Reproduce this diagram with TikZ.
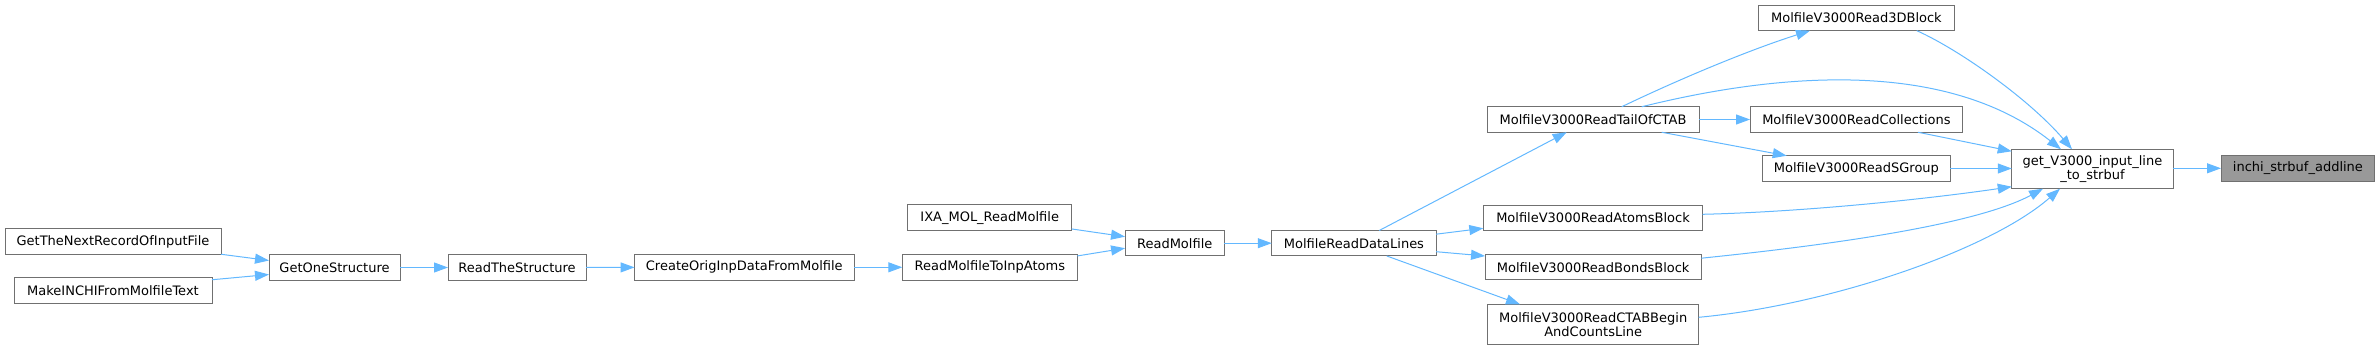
\documentclass[tikz,border=0pt]{standalone}
\usepackage{fontspec}
\setmainfont{DejaVu Sans}
\usetikzlibrary{arrows.meta,calc}
\definecolor{edgeblue}{HTML}{63B8FF}
\definecolor{boxborder}{HTML}{707070}
\definecolor{rootfill}{HTML}{999999}
\begin{document}
\begin{tikzpicture}[x=1pt,y=-1pt,
  fn/.style={draw=boxborder, fill=white, line width=1pt, inner sep=0pt, outer sep=0pt,
    font=\fontsize{13}{14}\selectfont, align=center, minimum height=25.5pt},
  root/.style={fn, fill=rootfill},
  call/.style={draw=edgeblue, line width=1pt, -{Triangle[length=14pt,width=10pt]}}
]
\useasboundingbox (0,0) rectangle (2380,350);
% nodes
\node[fn, minimum width=216pt] (n1) at (113,241.5) {GetTheNextRecordOfInputFile};
\node[fn, minimum width=198pt] (n2) at (113,290.5) {MakeINCHIFromMolfileText};
\node[fn, minimum width=131pt] (n3) at (334.5,267.5) {GetOneStructure};
\node[fn, minimum width=138pt] (n4) at (517,267.5) {ReadTheStructure};
\node[fn, minimum width=219.5pt] (n5) at (744.3,267.3) {CreateOrigInpDataFromMolfile};
\node[fn, minimum width=175pt] (n6) at (989.8,267.3) {ReadMolfileToInpAtoms};
\node[fn, minimum width=164pt] (n7) at (989.7,217.7) {IXA\_MOL\_ReadMolfile};
\node[fn, minimum width=99.3pt] (n8) at (1174.7,243.2) {ReadMolfile};
\node[fn, minimum width=164.3pt] (n9) at (1353.9,243.2) {MolfileReadDataLines};
\node[fn, minimum width=212pt] (n10) at (1593,119.5) {MolfileV3000ReadTailOfCTAB};
\node[fn, minimum width=195.3pt] (n11) at (1856.4,17.9) {MolfileV3000Read3DBlock};
\node[fn, minimum width=212.7pt] (n12) at (1856.4,119.5) {MolfileV3000ReadCollections};
\node[fn, minimum width=187.3pt] (n13) at (1856.4,168.5) {MolfileV3000ReadSGroup};
\node[fn, minimum width=219.4pt] (n14) at (1593,217.9) {MolfileV3000ReadAtomsBlock};
\node[fn, minimum width=216.3pt] (n15) at (1593.2,267.2) {MolfileV3000ReadBondsBlock};
\node[fn, minimum width=211pt, minimum height=40.2pt] (n16) at (1593.2,324.4) {MolfileV3000ReadCTABBegin\\AndCountsLine};
\node[fn, minimum width=161.3pt, minimum height=39.4pt] (n17) at (2092.4,169) {get\_V3000\_input\_line\\\_to\_strbuf};
\node[root, minimum width=153.8pt] (n18) at (2297.9,168.3) {inchi\_strbuf\_addline};
% edges
\draw[call] (n1.south east) -- ($(n3.west)+(0,-7)$);
\draw[call] ($(n2.north east)+(0,2)$) -- ($(n3.west)+(0,7)$);
\draw[call] (n3) -- (n4);
\draw[call] (n4) -- (n5);
\draw[call] (n5) -- (n6);
\draw[call] ($(n7.south east)+(0,-1.5)$) -- ($(n8.west)+(0,-6.5)$);
\draw[call] ($(n6.north east)+(0,1.4)$) -- ($(n8.west)+(0,5)$);
\draw[call] (n8) -- (n9);
\draw[call] ($(n9.north)+(25.4,0)$) -- ($(n10.south)+(-26.3,0)$);
\draw[call] ($(n9.east)+(0,-9)$) -- ($(n14.west)+(0,10.4)$);
\draw[call] ($(n9.east)+(0,8.5)$) -- ($(n15.west)+(0,-11.2)$);
\draw[call] ($(n9.south)+(32.8,0)$) -- ($(n16.north)+(-73.2,0)$);
\draw[call] ($(n10.north)+(28.7,0)$) .. controls (1681.7,78) and (1750,49.7) .. ($(n11.south)+(-46.4,0)$);
\draw[call] (n10) -- (n12);
\draw[call] ($(n10.south)+(68.7,0)$) -- ($(n13.north west)+(24,0)$);
\draw[call] ($(n10.north)+(48.7,0)$) .. controls (1790,70) and (1950,62) .. ($(n17.north)+(-31.4,0)$);
\draw[call] ($(n11.south)+(60.3,0)$) .. controls (1960,50) and (2030,100) .. ($(n17.north)+(-20.4,0)$);
\draw[call] ($(n12.south)+(61.6,0)$) -- ($(n17.north west)+(0,2)$);
\draw[call] (n13.east) -- (n17.west |- n13.east);
\draw[call] ($(n14.east)+(0,-3.6)$) .. controls (1800,212) and (1920,200) .. ($(n17.south west)+(0,-2)$);
\draw[call] ($(n15.east)+(0,-9)$) .. controls (1800,248) and (1970,228) .. ($(n17.south)+(-49.4,0)$);
\draw[call] ($(n16.east)+(0,-7.1)$) .. controls (1830,305) and (1990,250) .. ($(n17.south)+(-32.4,0)$);
\draw[call] (n17.east |- n18.west) -- (n18.west);
\end{tikzpicture}
\end{document}
